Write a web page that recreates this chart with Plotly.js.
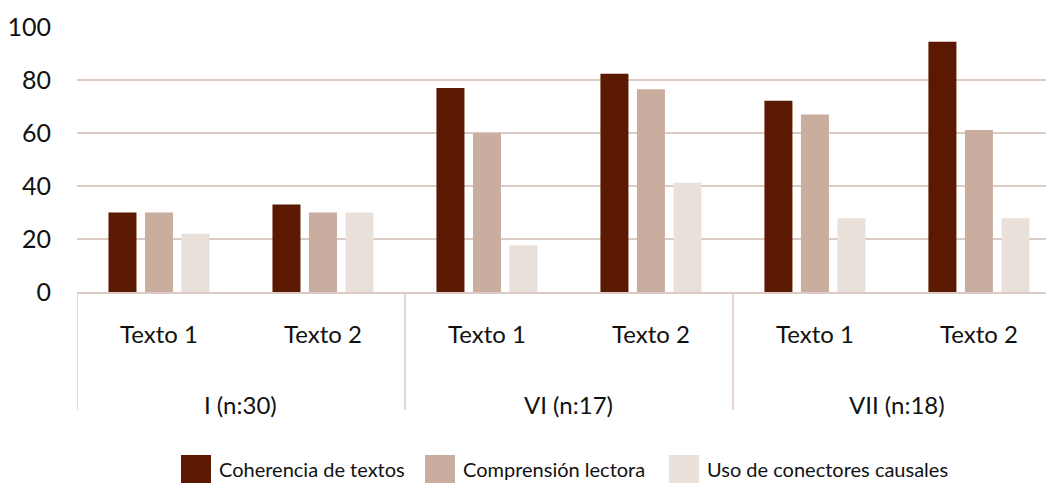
<!DOCTYPE html>
<html>
<head>
<meta charset="utf-8">
<script src="https://cdn.plot.ly/plotly-3.0.1.min.js"></script>
<style>html,body{margin:0;padding:0;background:#fff;}#chart{width:1046px;height:483px;}</style>
</head>
<body>
<div id="chart"></div>
<script>
// ---- data ----
const groups = ["I (n:30)", "VI (n:17)", "VII (n:18)"];
const groupSizes = [2, 2, 2];
const textLabels = ["Texto 1", "Texto 2", "Texto 1", "Texto 2", "Texto 1", "Texto 2"];
const seriesNames = ["Coherencia de textos", "Comprensión lectora", "Uso de conectores causales"];
const coherencia = [30, 33, 77, 82.4, 72.2, 94.4];
const comprension = [30, 30, 60, 76.5, 67, 61.1];
const conectores = [22, 30, 17.6, 41.2, 27.8, 27.8];
const yTicks = [0, 20, 40, 60, 80, 100];

// ---- style ----
const colors = ["#5a1900", "#c9ad9f", "#e9e0da"];
const gridColor = "#dccbc2";
const FONT = "Lato, 'Open Sans', sans-serif";

const xIdx = textLabels.map((_, i) => i);
const values = [coherencia, comprension, conectores];

const traces = values.map((v, k) => ({
  type: "bar",
  name: seriesNames[k],
  x: xIdx,
  y: v,
  marker: {color: colors[k]},
  showlegend: false,
  hoverinfo: "x+y+name"
}));

// group dividers and labels derived from group sizes
const shapes = [];
const annotations = [];
let start = -0.5;
groups.forEach((g, i) => {
  const end = start + groupSizes[i];
  shapes.push({type: "line", xref: "x", yref: "paper", x0: start, x1: start, y0: 0, y1: -0.445,
               line: {color: gridColor, width: 1.5}});
  if (i === groups.length - 1) {
    shapes.push({type: "line", xref: "x", yref: "paper", x0: end, x1: end, y0: 0, y1: -0.445,
                 line: {color: gridColor, width: 1.5}});
  }
  annotations.push({text: g, xref: "x", yref: "paper", x: (start + end) / 2, y: -0.426,
                    showarrow: false, xanchor: "center", yanchor: "middle",
                    font: {family: FONT, size: 24, color: "#111"}});
  start = end;
});

// custom legend (large square swatches)
const legendX = [181, 425, 669]; // pixel positions of swatches
const plotL = 77, plotW = 969, plotB = 292, plotH = 265;
const px2x = p => (p - plotL) / plotW;
const py2y = p => (plotB - p) / plotH;
seriesNames.forEach((n, k) => {
  shapes.push({type: "rect", xref: "paper", yref: "paper",
               x0: px2x(legendX[k]), x1: px2x(legendX[k] + 30),
               y0: py2y(455), y1: py2y(483), fillcolor: colors[k], line: {width: 0}});
  annotations.push({text: n, xref: "paper", yref: "paper", x: px2x(legendX[k] + 36), y: py2y(469),
                    showarrow: false, xanchor: "left", yanchor: "middle",
                    font: {family: FONT, size: 20, color: "#111"}});
});

const layout = {
  width: 1046, height: 483,
  margin: {l: 77, r: 0, t: 27, b: 191},
  paper_bgcolor: "#fff", plot_bgcolor: "#fff",
  barmode: "group",
  bargap: 0.332,
  bargroupgap: 0.233,
  font: {family: FONT, size: 24, color: "#111"},
  xaxis: {
    range: [-0.5, 5.409],
    tickmode: "array", tickvals: xIdx, ticktext: textLabels,
    ticks: "", showgrid: false, zeroline: false,
    showline: true, linecolor: gridColor, linewidth: 1.5,
    ticklabelstandoff: 21,
    tickfont: {family: FONT, size: 24, color: "#111"},
    fixedrange: true
  },
  yaxis: {
    range: [0, 100],
    tickmode: "array", tickvals: yTicks,
    ticks: "", showgrid: true, gridcolor: gridColor, gridwidth: 1.5,
    zeroline: false, showline: false,
    ticklabelstandoff: 25,
    tickfont: {family: FONT, size: 25, color: "#111"},
    fixedrange: true
  },
  shapes: shapes,
  annotations: annotations
};

Plotly.newPlot("chart", traces, layout, {displayModeBar: false, staticPlot: true});
</script>
</body>
</html>
